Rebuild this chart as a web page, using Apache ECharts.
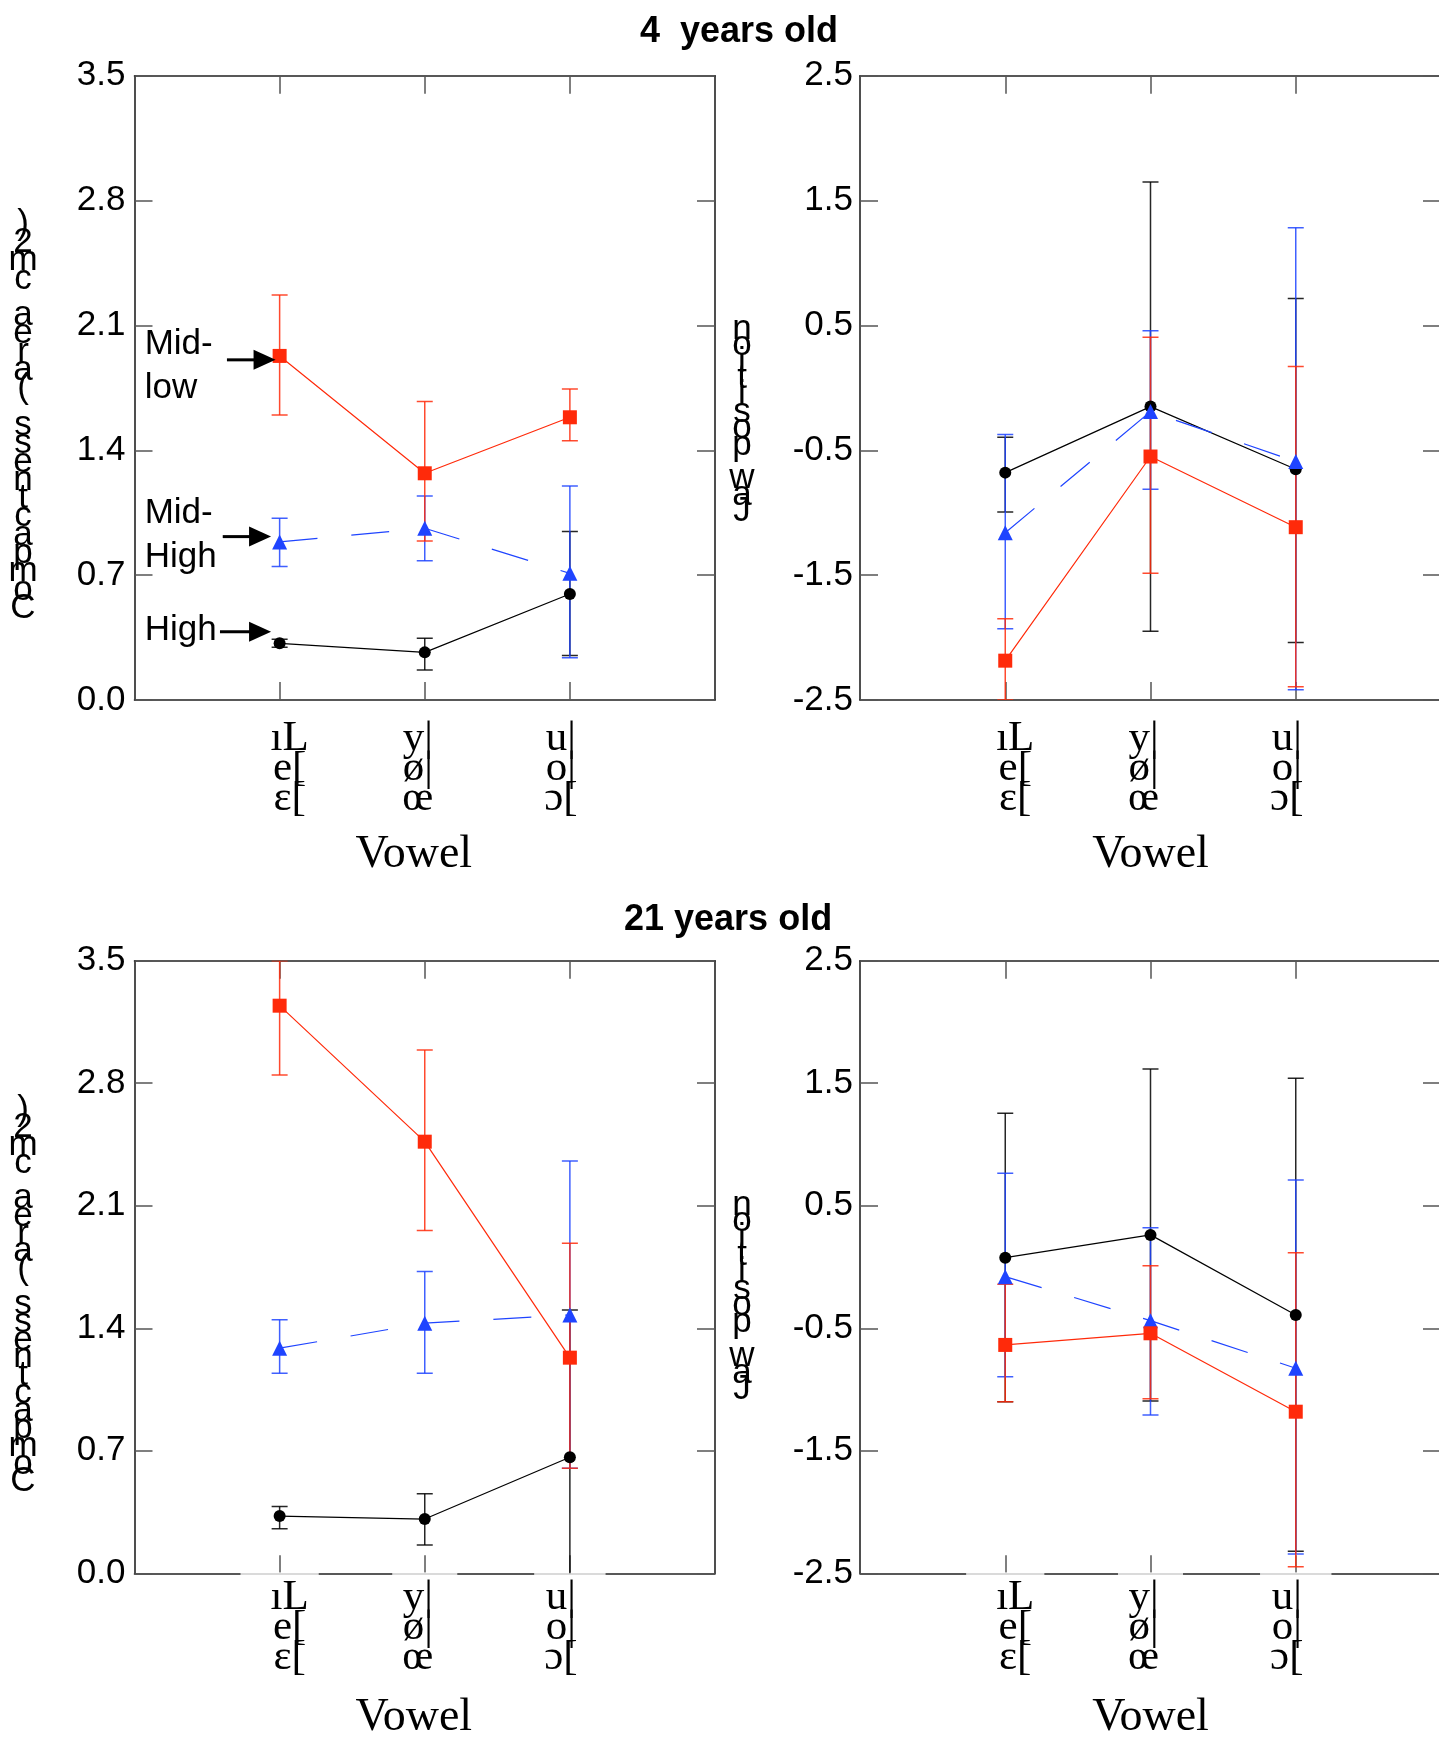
<!DOCTYPE html>
<html>
<head>
<meta charset="utf-8">
<script src="https://cdn.jsdelivr.net/npm/echarts@6/dist/echarts.min.js"></script>
<style>
  html, body { margin: 0; padding: 0; background: #ffffff; }
  #chart { width: 1439px; height: 1737px; }
</style>
</head>
<body>
<div id="chart"></div>
<script>
// ---- categories and tick labels ----
const vowelCategories = [1, 2, 3];
const vowelLabels = [['ıL', 'e[', 'ɛ['], ['y|', 'ø|', 'œ'], ['u|', 'o|', 'ɔ[']];
const compactnessTicks = [0, 0.7, 1.4, 2.1, 2.8, 3.5];
const jawTicks = [-2.5, -1.5, -0.5, 0.5, 1.5, 2.5];

// ---- 4 years old: compactness (area cm2) ----
const high4Compact      = [0.318, 0.267, 0.594];
const high4CompactLow   = [0.296, 0.168, 0.250];
const high4CompactHigh  = [0.340, 0.346, 0.944];
const midHigh4Compact     = [0.886, 0.963, 0.710];
const midHigh4CompactLow  = [0.748, 0.781, 0.237];
const midHigh4CompactHigh = [1.019, 1.144, 1.200];
const midLow4Compact     = [1.929, 1.271, 1.585];
const midLow4CompactLow  = [1.598, 0.892, 1.453];
const midLow4CompactHigh = [2.270, 1.673, 1.744];

// ---- 4 years old: jaw position ----
const high4Jaw      = [-0.679, -0.150, -0.652];
const high4JawLow   = [-0.994, -1.950, -2.040];
const high4JawHigh  = [-0.395, 1.648, 0.716];
const midHigh4Jaw     = [-1.160, -0.190, -0.590];
const midHigh4JawLow  = [-1.929, -0.812, -2.417];
const midHigh4JawHigh = [-0.374, 0.457, 1.282];
const midLow4Jaw     = [-2.185, -0.550, -1.116];
const midLow4JawLow  = [-2.500, -1.485, -2.394];
const midLow4JawHigh = [-1.850, 0.406, 0.170];

// ---- 21 years old: compactness (area cm2) ----
const high21Compact      = [0.327, 0.310, 0.663];
const high21CompactLow   = [0.255, 0.162, -0.180];
const high21CompactHigh  = [0.381, 0.455, 1.505];
const midHigh21Compact     = [1.286, 1.429, 1.476];
const midHigh21CompactLow  = [1.143, 1.143, 0.600];
const midHigh21CompactHigh = [1.449, 1.724, 2.356];
const midLow21Compact     = [3.243, 2.466, 1.232];
const midLow21CompactLow  = [2.847, 1.958, 0.600];
const midLow21CompactHigh = [3.500, 2.990, 1.886];

// ---- 21 years old: jaw position ----
const high21Jaw      = [0.076, 0.262, -0.391];
const high21JawLow   = [-1.100, -1.093, -2.320];
const high21JawHigh  = [1.255, 1.617, 1.541];
const midHigh21Jaw     = [-0.079, -0.438, -0.826];
const midHigh21JawLow  = [-0.895, -1.208, -2.342];
const midHigh21JawHigh = [0.765, 0.321, 0.710];
const midLow21Jaw     = [-0.636, -0.541, -1.181];
const midLow21JawLow  = [-1.100, -1.075, -2.446];
const midLow21JawHigh = [-0.141, 0.011, 0.117];

// ---- series appearance ----
const groupStyles = {
  high:    { name: 'High',     color: '#000000', symbol: 'circle',   size: 12, dash: 'solid' },
  midHigh: { name: 'Mid-High', color: '#1f44ff', symbol: 'triangle', size: 15, dash: [38, 34] },
  midLow:  { name: 'Mid-low',  color: '#ff2a0a', symbol: 'rect',     size: 14, dash: 'solid' }
};

// ---- panel layout (pixels) ----
const panels = [
  { box: { left: 134.5, top: 75.7,  width: 580.5, height: 624.3 }, kind: 'compact', top: true,
    groups: { high: [high4Compact, high4CompactLow, high4CompactHigh],
              midHigh: [midHigh4Compact, midHigh4CompactLow, midHigh4CompactHigh],
              midLow: [midLow4Compact, midLow4CompactLow, midLow4CompactHigh] } },
  { box: { left: 860, top: 75.7,  width: 581, height: 624.3 }, kind: 'jaw', top: true,
    groups: { high: [high4Jaw, high4JawLow, high4JawHigh],
              midHigh: [midHigh4Jaw, midHigh4JawLow, midHigh4JawHigh],
              midLow: [midLow4Jaw, midLow4JawLow, midLow4JawHigh] } },
  { box: { left: 134.5, top: 960.7, width: 580.5, height: 612.6 }, kind: 'compact', top: false,
    groups: { high: [high21Compact, high21CompactLow, high21CompactHigh],
              midHigh: [midHigh21Compact, midHigh21CompactLow, midHigh21CompactHigh],
              midLow: [midLow21Compact, midLow21CompactLow, midLow21CompactHigh] } },
  { box: { left: 860, top: 960.7, width: 581, height: 612.6 }, kind: 'jaw', top: false,
    groups: { high: [high21Jaw, high21JawLow, high21JawHigh],
              midHigh: [midHigh21Jaw, midHigh21JawLow, midHigh21JawHigh],
              midLow: [midLow21Jaw, midLow21JawLow, midLow21JawHigh] } }
];

const frameColor = '#222222';
const tickColor = '#555555';
const sansFont = '"Liberation Sans", Arial, sans-serif';
const serifFont = '"Liberation Serif", "Times New Roman", serif';

// vowel label columns sit slightly off their ticks
const vowelRich = {
  c1: { padding: [0, 0, 0, 20] },
  c2: { padding: [0, 14, 0, 0] },
  c3: { padding: [0, 18, 0, 0] }
};

const grids = [], xAxes = [], yAxes = [], series = [];

panels.forEach((p, i) => {
  grids.push(Object.assign({ containLabel: false, outerBoundsMode: 'none' }, p.box));
  const isLeft = p.kind === 'compact';
  const yTicks = isLeft ? compactnessTicks : jawTicks;
  const yMin = isLeft ? 0 : -2.5;
  const yMax = isLeft ? 3.5 : 2.5;

  // bottom x axis with vowel labels
  xAxes.push({
    type: 'value', gridIndex: i, position: 'bottom', min: 0, max: 4,
    axisLine: { show: true, onZero: false, lineStyle: { color: frameColor, width: 1.6 } },
    axisTick: { show: true, inside: true, length: 18, customValues: vowelCategories,
                lineStyle: { color: tickColor, width: 1.5 } },
    axisLabel: {
      customValues: vowelCategories,
      formatter: v => {
        const k = Math.round(v);
        return vowelLabels[k - 1].map(s => '{c' + k + '|' + s + '}').join('\n');
      },
      rich: vowelRich,
      fontFamily: serifFont, fontSize: 43, color: '#000', lineHeight: 30,
      margin: p.top ? 24 : -1,
      padding: p.top ? 0 : [10, 10, 0, 10],
      backgroundColor: p.top ? 'transparent' : 'rgba(255,255,255,0.78)'
    },
    splitLine: { show: false },
    name: 'Vowel', nameLocation: 'middle', nameGap: p.top ? 132 : 122,
    nameTextStyle: { fontFamily: serifFont, fontSize: 46, color: '#000',
                     padding: isLeft ? [0, 22, 0, 0] : 0 }
  });
  // top x axis (frame + ticks)
  xAxes.push({
    type: 'value', gridIndex: i, position: 'top', min: 0, max: 4,
    axisLine: { show: true, onZero: false, lineStyle: { color: frameColor, width: 1.6 } },
    axisTick: { show: true, inside: true, length: 18, customValues: vowelCategories,
                lineStyle: { color: tickColor, width: 1.5 } },
    axisLabel: { show: false }, splitLine: { show: false }
  });
  // left y axis with value labels
  yAxes.push({
    type: 'value', gridIndex: i, position: 'left', min: yMin, max: yMax,
    axisLine: { show: true, onZero: false, lineStyle: { color: frameColor, width: 1.6 } },
    axisTick: { show: true, inside: true, length: 18, customValues: yTicks,
                lineStyle: { color: tickColor, width: 1.5 } },
    axisLabel: { customValues: yTicks, formatter: v => v.toFixed(1),
                 fontFamily: sansFont, fontSize: 35, color: '#000', margin: isLeft ? 9 : 7 },
    splitLine: { show: false }
  });
  // right y axis (frame + ticks)
  yAxes.push({
    type: 'value', gridIndex: i, position: 'right', min: yMin, max: yMax,
    axisLine: { show: true, onZero: false, lineStyle: { color: frameColor, width: 1.6 } },
    axisTick: { show: true, inside: true, length: 18, customValues: yTicks,
                lineStyle: { color: tickColor, width: 1.5 } },
    axisLabel: { show: false }, splitLine: { show: false }
  });

  // error bars first, then the mean lines with markers
  ['high', 'midHigh', 'midLow'].forEach(key => {
    const st = groupStyles[key];
    const [, lows, highs] = p.groups[key];
    series.push({
      type: 'custom', name: st.name + ' SD', xAxisIndex: 2 * i, yAxisIndex: 2 * i,
      clip: true, silent: true, z: 2,
      data: vowelCategories.map((c, k) => [c, lows[k], highs[k]]),
      renderItem: (params, api) => {
        const lo = api.coord([api.value(0), api.value(1)]);
        const hi = api.coord([api.value(0), api.value(2)]);
        const half = 8;
        const style = { stroke: st.color, lineWidth: 1.5, opacity: 0.85 };
        return {
          type: 'group',
          children: [
            { type: 'line', shape: { x1: lo[0], y1: hi[1], x2: lo[0], y2: lo[1] }, style },
            { type: 'line', shape: { x1: lo[0] - half, y1: hi[1], x2: lo[0] + half, y2: hi[1] }, style },
            { type: 'line', shape: { x1: lo[0] - half, y1: lo[1], x2: lo[0] + half, y2: lo[1] }, style }
          ]
        };
      }
    });
  });
  ['high', 'midHigh', 'midLow'].forEach(key => {
    const st = groupStyles[key];
    const [means] = p.groups[key];
    series.push({
      type: 'line', name: st.name, xAxisIndex: 2 * i, yAxisIndex: 2 * i, z: 3,
      data: vowelCategories.map((c, k) => [c, means[k]]),
      symbol: st.symbol, symbolSize: st.size, showAllSymbol: true,
      itemStyle: { color: st.color, opacity: 1 },
      lineStyle: { color: st.color, width: 1.2, type: st.dash },
      emphasis: { disabled: true }
    });
  });
});

// stacked, upright axis titles
function stackText(str, cx, firstCenter, step) {
  const chars = str.split('').reverse();
  return {
    type: 'text', x: cx, y: firstCenter - step / 2, silent: true,
    style: { text: chars.join('\n'), fill: '#000', fontFamily: sansFont, fontSize: 35,
             lineHeight: step, align: 'center', verticalAlign: 'top' }
  };
}

const staticGraphics = [
  { type: 'text', x: 640, y: 32, silent: true,
    style: { text: '4  years old', fill: '#000', fontFamily: sansFont, fontSize: 36, fontWeight: 'bold',
             align: 'left', verticalAlign: 'middle' } },
  { type: 'text', x: 624, y: 920, silent: true,
    style: { text: '21 years old', fill: '#000', fontFamily: sansFont, fontSize: 36, fontWeight: 'bold',
             align: 'left', verticalAlign: 'middle' } },
  stackText('Compactness (area cm2)', 23, 224, 18.3),
  stackText('Compactness (area cm2)', 23, 1110, 17.7),
  stackText('Jaw position', 742, 329, 16.6),
  stackText('Jaw position', 742, 1205, 16.8)
];

// group labels with arrows, placed in the 4-year compactness panel's data space
const groupNotes = [
  { text: 'Mid-\nlow',  textAt: [0.07, 1.870], tail: [0.637, 1.907], tip: [0.972, 1.907] },
  { text: 'Mid-\nHigh', textAt: [0.07, 0.925], tail: [0.608, 0.916], tip: [0.941, 0.916] },
  { text: 'High',       textAt: [0.07, 0.388], tail: [0.589, 0.383], tip: [0.941, 0.383] }
];

const chart = echarts.init(document.getElementById('chart'), null, { renderer: 'canvas' });
chart.setOption({
  animation: false,
  backgroundColor: '#ffffff',
  grid: grids, xAxis: xAxes, yAxis: yAxes, series: series,
  graphic: staticGraphics
});

const noteGraphics = [];
groupNotes.forEach(n => {
  const t = chart.convertToPixel({ gridIndex: 0 }, n.textAt);
  const a = chart.convertToPixel({ gridIndex: 0 }, n.tail);
  const b = chart.convertToPixel({ gridIndex: 0 }, n.tip);
  noteGraphics.push({
    type: 'text', x: t[0], y: t[1], silent: true, z: 10,
    style: { text: n.text, fill: '#000', fontFamily: sansFont, fontSize: 35, lineHeight: 44,
             align: 'left', verticalAlign: 'middle' }
  });
  noteGraphics.push({
    type: 'line', silent: true, z: 10,
    shape: { x1: a[0], y1: a[1], x2: b[0] - 18, y2: b[1] },
    style: { stroke: '#000', lineWidth: 3 }
  });
  noteGraphics.push({
    type: 'polygon', silent: true, z: 10,
    shape: { points: [[b[0] - 22, b[1] - 10], [b[0], b[1]], [b[0] - 22, b[1] + 10]] },
    style: { fill: '#000' }
  });
});
chart.setOption({ graphic: staticGraphics.concat(noteGraphics) });
</script>
</body>
</html>
